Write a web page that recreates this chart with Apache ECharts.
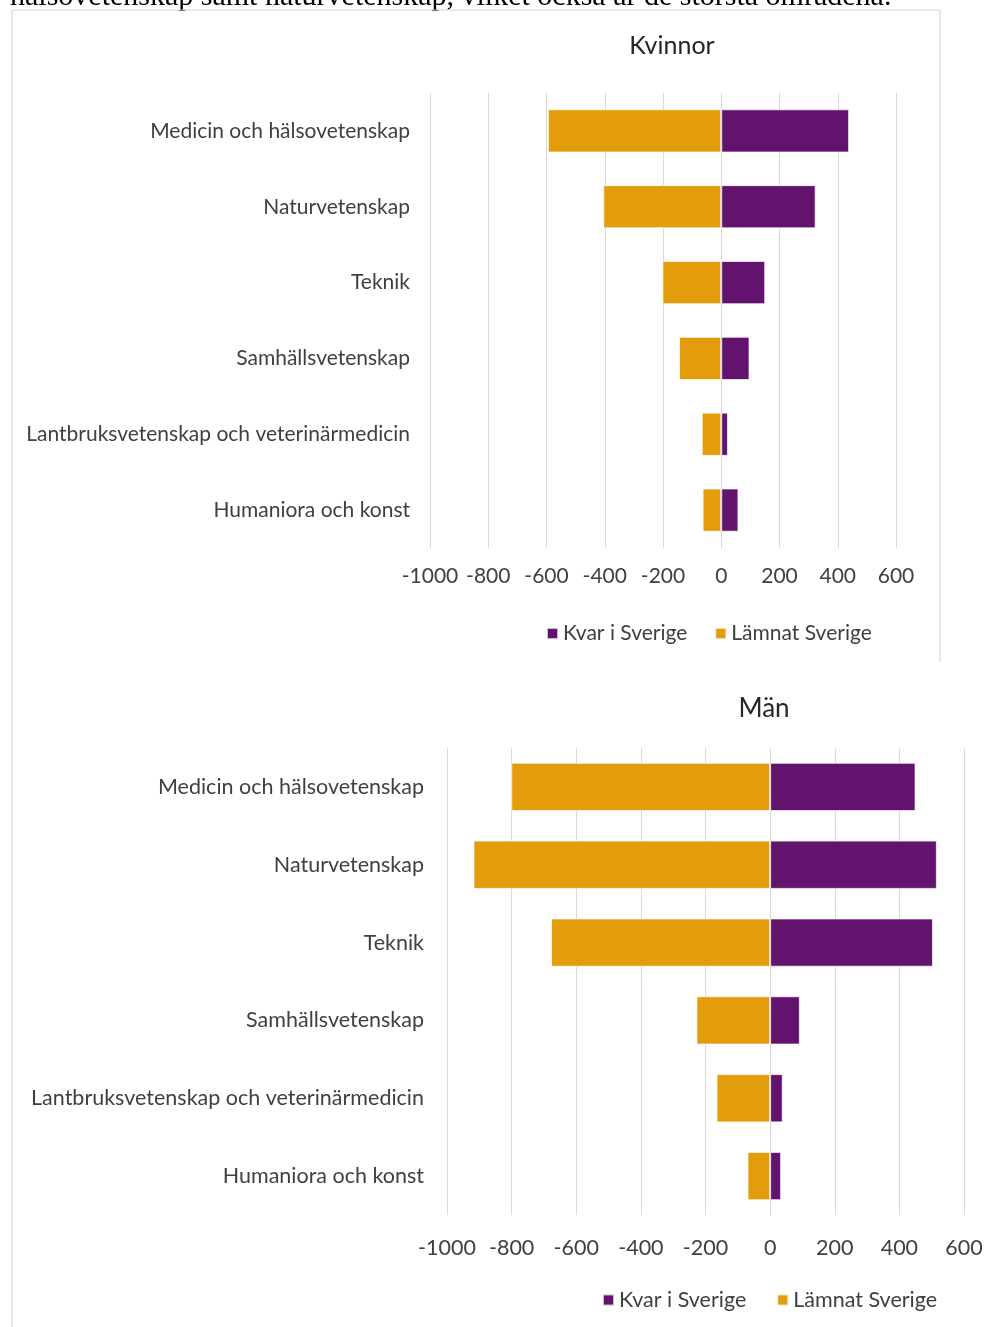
<!DOCTYPE html>
<html>
<head>
<meta charset="utf-8">
<script src="https://cdn.jsdelivr.net/npm/echarts@6/dist/echarts.min.js"></script>
<style>
html,body{margin:0;padding:0;background:#fff;}
#c{width:995px;height:1327px;}
</style>
</head>
<body>
<div id="c"></div>
<script>
const categories = ["Medicin och hälsovetenskap","Naturvetenskap","Teknik","Samhällsvetenskap","Lantbruksvetenskap och veterinärmedicin","Humaniora och konst"];
const seriesNames = ["Kvar i Sverige","Lämnat Sverige"];
const kvinnorKvar = [439, 324, 151, 97, 23, 59];
const kvinnorLamnat = [-595, -405, -202, -145, -67, -64];
const manKvar = [450, 516, 504, 92, 39, 34];
const manLamnat = [-801, -918, -678, -228, -166, -70];
const titles = ["Kvinnor","Män"];
const introText = "hälsovetenskap samt naturvetenskap, vilket också är de största områdena.";

const PURPLE = "#62136E";
const ORANGE = "#E39C0A";
const FONT = "Lato, 'Open Sans', sans-serif";
const TXT = "#404040";

const chart = echarts.init(document.getElementById('c'), null, {renderer:'canvas'});

function xAx(gi, fs, margin){
  return {gridIndex:gi, type:'value', min:-1000, max:600, interval:200,
    axisLine:{show:false}, axisTick:{show:false},
    splitLine:{lineStyle:{color:'#d9d9d9', width:1}},
    axisLabel:{color:TXT, fontSize:fs, fontFamily:FONT, margin:margin, formatter:v=>String(v)}};
}
function yAx(gi, fs, margin){
  return {gridIndex:gi, type:'category', data:categories, inverse:true,
    axisLine:{show:false}, axisTick:{show:false},
    axisLabel:{color:TXT, fontSize:fs, fontFamily:FONT, margin:margin}};
}
function bar(name, data, gi, stack, color, gap){
  return {name:name, type:'bar', stack:stack, xAxisIndex:gi, yAxisIndex:gi, data:data,
    barCategoryGap:gap, itemStyle:{color:color, borderColor:'rgba(255,255,255,0.7)', borderWidth:1},
    emphasis:{disabled:true}};
}

chart.setOption({
  animation:false,
  backgroundColor:'#fff',
  legend:[
    {data:seriesNames, top:618, left:541, itemWidth:11, itemHeight:11, itemGap:27,
     icon:'rect', textStyle:{fontFamily:FONT, fontSize:21, color:TXT}},
    {data:seriesNames, top:1284, left:597, itemWidth:11, itemHeight:11, itemGap:30,
     icon:'rect', textStyle:{fontFamily:FONT, fontSize:21.5, color:TXT}}
  ],
  grid:[
    {left:430, right:99, top:93, height:455, containLabel:false},
    {left:447, right:31, top:748, height:467, containLabel:false}
  ],
  xAxis:[xAx(0,21,18), xAx(1,21.5,22)],
  yAxis:[yAx(0,21,20), yAx(1,21.5,23)],
  series:[
    bar(seriesNames[0], kvinnorKvar, 0, 'k', PURPLE, '43%'),
    bar(seriesNames[1], kvinnorLamnat, 0, 'k', ORANGE, '43%'),
    bar(seriesNames[0], manKvar, 1, 'm', PURPLE, '38%'),
    bar(seriesNames[1], manLamnat, 1, 'm', ORANGE, '38%')
  ],
  graphic:[
    {type:'text', left:10, top:-18, style:{text:introText, font:"30px 'Liberation Serif', serif", fill:'#000'}},
    {type:'text', x:672, y:46, style:{text:titles[0], align:'center', verticalAlign:'middle', font:"25px Lato, sans-serif", fill:'#262626'}},
    {type:'text', x:764, y:709, style:{text:titles[1], align:'center', verticalAlign:'middle', font:"26px Lato, sans-serif", fill:'#262626'}},
    {type:'polyline', shape:{points:[[12,1327],[12,10],[940,10],[940,662]]}, style:{stroke:'#d0d0d0', lineWidth:1, fill:null}}
  ]
});
</script>
</body>
</html>
